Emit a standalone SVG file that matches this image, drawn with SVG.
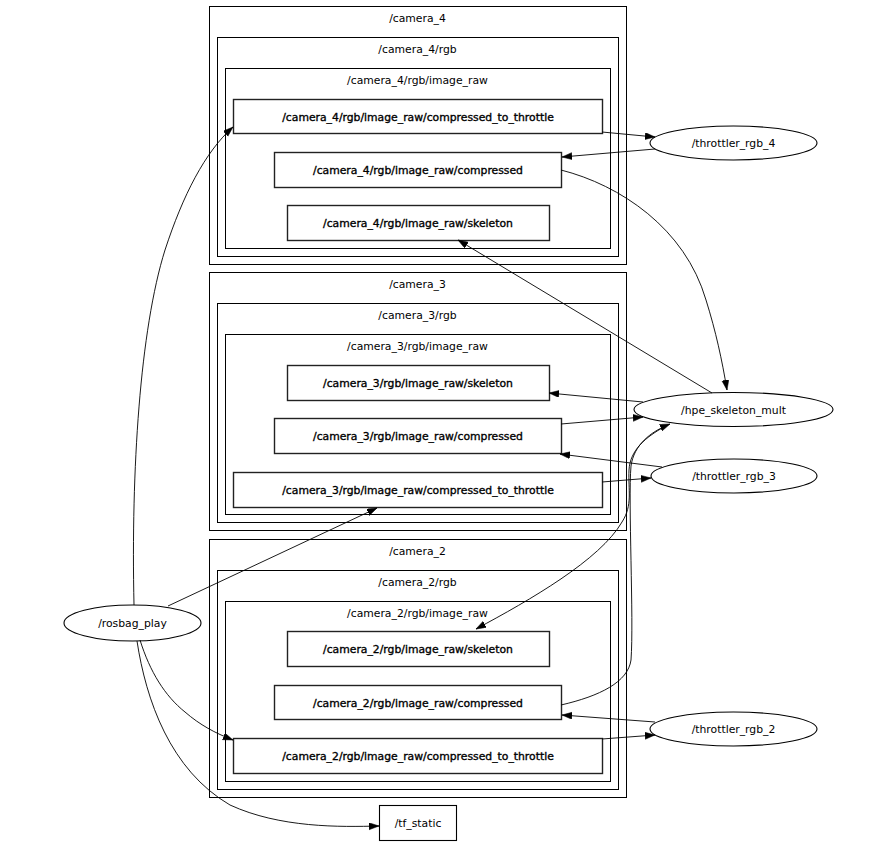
<svg xmlns="http://www.w3.org/2000/svg" width="874" height="854" viewBox="0 0 874 854">
<style>
  text { font-family: "DejaVu Sans", "Liberation Sans", sans-serif; font-size: 10.8px; fill: #000; text-anchor: middle; }
  .bx text { stroke: #000; stroke-width: 0.35; }
  .cl { fill: none; stroke: #000; stroke-width: 1; }
  .nd { fill: #fff; stroke: #000; stroke-width: 1.1; }
  .bx rect { fill: #fff; stroke: #222; stroke-width: 1.4; }
  .ed { fill: none; stroke: #000; stroke-width: 0.9; marker-end: url(#ah); }
</style>
<defs>
  <marker id="ah" markerUnits="userSpaceOnUse" markerWidth="11" markerHeight="8" refX="10" refY="3.5" orient="auto">
    <path d="M0,0 L10,3.5 L0,7 z" fill="#000" stroke="#000" stroke-width="0.5"/>
  </marker>
</defs>
<rect width="874" height="854" fill="#fff"/>

<g id="cluster_camera_4">
  <rect class="cl" x="209.5" y="6.5" width="417" height="258"/>
  <text x="417.5" y="22">/camera_4</text>
  <rect class="cl" x="217.5" y="37.5" width="401" height="219"/>
  <text x="417.5" y="53">/camera_4/rgb</text>
  <rect class="cl" x="225.5" y="68.5" width="385" height="180"/>
  <text x="417.5" y="84">/camera_4/rgb/image_raw</text>
</g>
<g id="cluster_camera_3">
  <rect class="cl" x="209.5" y="272.5" width="417" height="258"/>
  <text x="417.5" y="288">/camera_3</text>
  <rect class="cl" x="217.5" y="303.5" width="401" height="219"/>
  <text x="417.5" y="319">/camera_3/rgb</text>
  <rect class="cl" x="225.5" y="334.5" width="385" height="180"/>
  <text x="417.5" y="350">/camera_3/rgb/image_raw</text>
</g>
<g id="cluster_camera_2">
  <rect class="cl" x="209.5" y="539.5" width="417" height="258"/>
  <text x="417.5" y="555">/camera_2</text>
  <rect class="cl" x="217.5" y="570.5" width="401" height="219"/>
  <text x="417.5" y="586">/camera_2/rgb</text>
  <rect class="cl" x="225.5" y="601.5" width="385" height="180"/>
  <text x="417.5" y="617">/camera_2/rgb/image_raw</text>
</g>

<g id="c4_ctt" class="bx"><rect x="233.5" y="99.5" width="369" height="34"/><text x="418" y="120.5">/camera_4/rgb/image_raw/compressed_to_throttle</text></g>
<g id="c4_comp" class="bx"><rect x="274.5" y="152.5" width="287" height="35"/><text x="418" y="174">/camera_4/rgb/image_raw/compressed</text></g>
<g id="c4_skel" class="bx"><rect x="287.5" y="205.5" width="262" height="35"/><text x="418" y="227">/camera_4/rgb/image_raw/skeleton</text></g>

<g id="c3_skel" class="bx"><rect x="287.5" y="365.5" width="262" height="35"/><text x="418" y="387">/camera_3/rgb/image_raw/skeleton</text></g>
<g id="c3_comp" class="bx"><rect x="274.5" y="418.5" width="287" height="35"/><text x="418" y="440">/camera_3/rgb/image_raw/compressed</text></g>
<g id="c3_ctt" class="bx"><rect x="233.5" y="472.5" width="369" height="35"/><text x="418" y="494">/camera_3/rgb/image_raw/compressed_to_throttle</text></g>

<g id="c2_skel" class="bx"><rect x="287.5" y="631.5" width="262" height="35"/><text x="418" y="653">/camera_2/rgb/image_raw/skeleton</text></g>
<g id="c2_comp" class="bx"><rect x="274.5" y="685.5" width="287" height="34"/><text x="418" y="706.5">/camera_2/rgb/image_raw/compressed</text></g>
<g id="c2_ctt" class="bx"><rect x="233.5" y="738.5" width="369" height="35"/><text x="418" y="760">/camera_2/rgb/image_raw/compressed_to_throttle</text></g>

<g id="tf_static"><rect class="nd" x="379.5" y="805.5" width="77" height="35"/><text x="418" y="827">/tf_static</text></g>

<g id="throttler_rgb_4"><ellipse class="nd" cx="733.5" cy="143" rx="83.5" ry="17"/><text x="733.5" y="147">/throttler_rgb_4</text></g>
<g id="hpe_skeleton_mult"><ellipse class="nd" cx="733.5" cy="409.5" rx="99.5" ry="17"/><text x="733.5" y="413.5">/hpe_skeleton_mult</text></g>
<g id="throttler_rgb_3"><ellipse class="nd" cx="734" cy="476" rx="83" ry="17"/><text x="734" y="480">/throttler_rgb_3</text></g>
<g id="throttler_rgb_2"><ellipse class="nd" cx="733.5" cy="729" rx="83.5" ry="17"/><text x="733.5" y="733">/throttler_rgb_2</text></g>
<g id="rosbag_play"><ellipse class="nd" cx="132.5" cy="623" rx="68.5" ry="18"/><text x="132.5" y="627">/rosbag_play</text></g>

<g id="edges">
  <path class="ed" d="M134,605 C131,470 140,330 165,250 C183,195 205,152 233,127"/>
  <path class="ed" d="M602,132 L655,137"/>
  <path class="ed" d="M655,149 L562,157"/>
  <path class="ed" d="M561,170 C620,185 685,228 706,300 C716,332 722,360 727,390"/>
  <path class="ed" d="M712,393 L458,240"/>
  <path class="ed" d="M643,402 L549,393"/>
  <path class="ed" d="M561,424 L643,417"/>
  <path class="ed" d="M662,467 L560,454"/>
  <path class="ed" d="M602,482 L651,478"/>
  <path class="ed" d="M168,606 L377,508"/>
  <path class="ed" d="M561,705 C600,696 628,682 631,660 C634,620 628,500 631,466 C634,445 650,432 670,424"/>
  <path class="ed" d="M664,427 C646,437 630,450 629,470 C628,490 633,505 622,522 C600,560 530,600 476,629"/>
  <path class="ed" d="M655,722 L562,715"/>
  <path class="ed" d="M602,739 L655,735"/>
  <path class="ed" d="M140,640 C150,672 165,696 185,712 C200,725 215,733 233,740"/>
  <path class="ed" d="M137,641 C146,700 170,770 230,805 C280,828 340,827 379,826"/>
</g>
</svg>
